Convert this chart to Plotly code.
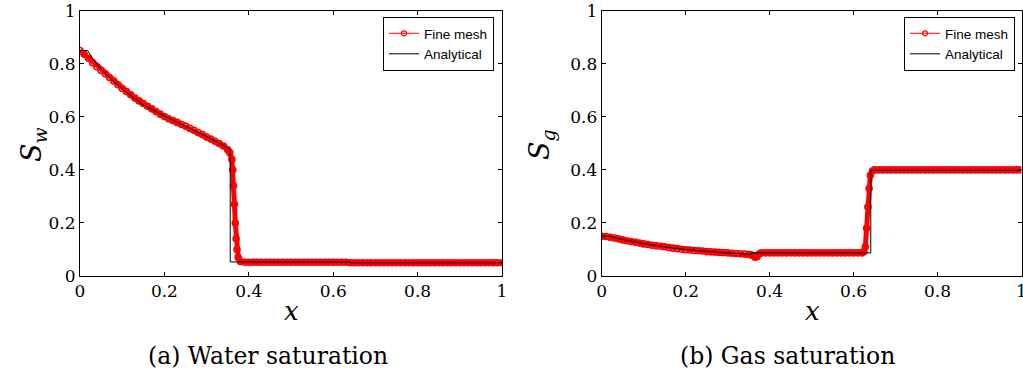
import plotly.graph_objects as go

# ---------------- data ----------------
tick_vals = [0, 0.2, 0.4, 0.6, 0.8, 1]
tick_text = ["0", "0.2", "0.4", "0.6", "0.8", "1"]

# Water saturation - fine mesh
water_fine_x = [0.00, 0.01, 0.02, 0.03, 0.04, 0.05, 0.06, 0.07, 0.08, 0.09,
                0.10, 0.11, 0.12, 0.13, 0.14, 0.15, 0.16, 0.17, 0.18, 0.19,
                0.20, 0.21, 0.22, 0.23, 0.24, 0.25, 0.26, 0.27, 0.28, 0.29,
                0.30, 0.31, 0.32, 0.33, 0.34, 0.35, 0.355, 0.36, 0.362, 0.364,
                0.366, 0.368, 0.370, 0.372, 0.375, 0.38, 0.39,
                0.40, 0.41, 0.42, 0.43, 0.44, 0.45, 0.46, 0.47, 0.48, 0.49,
                0.50, 0.51, 0.52, 0.53, 0.54, 0.55, 0.56, 0.57, 0.58, 0.59,
                0.60, 0.61, 0.62, 0.63, 0.64, 0.65, 0.66, 0.67, 0.68, 0.69,
                0.70, 0.71, 0.72, 0.73, 0.74, 0.75, 0.76, 0.77, 0.78, 0.79,
                0.80, 0.81, 0.82, 0.83, 0.84, 0.85, 0.86, 0.87, 0.88, 0.89,
                0.90, 0.91, 0.92, 0.93, 0.94, 0.95, 0.96, 0.97, 0.98, 0.99, 1.00]
water_fine_s = [0.850, 0.836, 0.821, 0.804, 0.789, 0.775, 0.762, 0.748, 0.735, 0.721,
                0.707, 0.695, 0.683, 0.671, 0.660, 0.650, 0.640, 0.630, 0.620, 0.610,
                0.601, 0.593, 0.586, 0.579, 0.572, 0.565, 0.557, 0.549, 0.541, 0.533,
                0.524, 0.516, 0.508, 0.499, 0.490, 0.476, 0.465, 0.440, 0.400, 0.340,
                0.270, 0.200, 0.140, 0.100, 0.070, 0.055, 0.052,
                0.052, 0.052, 0.052, 0.052, 0.052, 0.052, 0.052, 0.052, 0.052, 0.052,
                0.052, 0.052, 0.052, 0.052, 0.052, 0.052, 0.052, 0.052, 0.052, 0.052,
                0.052, 0.052, 0.052, 0.052, 0.050, 0.050, 0.050, 0.050, 0.050, 0.050,
                0.050, 0.050, 0.050, 0.050, 0.050, 0.050, 0.050, 0.050, 0.050, 0.050,
                0.050, 0.050, 0.050, 0.050, 0.050, 0.050, 0.050, 0.050, 0.050, 0.050,
                0.050, 0.050, 0.050, 0.050, 0.050, 0.050, 0.050, 0.050, 0.050, 0.050, 0.050]

# Water saturation - analytical
water_ana_x = [0.0, 0.018, 0.03, 0.05, 0.075, 0.10, 0.15, 0.20, 0.25, 0.30, 0.356, 0.356, 0.64, 0.64, 1.0]
water_ana_s = [0.85, 0.85, 0.82, 0.78, 0.74, 0.705, 0.645, 0.603, 0.565, 0.527, 0.478, 0.053, 0.053, 0.050, 0.050]

# Gas saturation - fine mesh
gas_fine_x = [0.00, 0.01, 0.02, 0.03, 0.04, 0.05, 0.06, 0.07, 0.08, 0.09,
              0.10, 0.11, 0.12, 0.13, 0.14, 0.15, 0.16, 0.17, 0.18, 0.19,
              0.20, 0.21, 0.22, 0.23, 0.24, 0.25, 0.26, 0.27, 0.28, 0.29,
              0.30, 0.31, 0.32, 0.33, 0.34, 0.35, 0.355, 0.36, 0.365, 0.37,
              0.375, 0.38, 0.39,
              0.40, 0.41, 0.42, 0.43, 0.44, 0.45, 0.46, 0.47, 0.48, 0.49,
              0.50, 0.51, 0.52, 0.53, 0.54, 0.55, 0.56, 0.57, 0.58, 0.59,
              0.60, 0.61, 0.62, 0.625, 0.628, 0.631, 0.634, 0.637, 0.64, 0.645,
              0.65, 0.66, 0.67, 0.68, 0.69,
              0.70, 0.71, 0.72, 0.73, 0.74, 0.75, 0.76, 0.77, 0.78, 0.79,
              0.80, 0.81, 0.82, 0.83, 0.84, 0.85, 0.86, 0.87, 0.88, 0.89,
              0.90, 0.91, 0.92, 0.93, 0.94, 0.95, 0.96, 0.97, 0.98, 0.99, 1.00]
gas_fine_s = [0.150, 0.149, 0.146, 0.143, 0.140, 0.136, 0.133, 0.130, 0.127, 0.124,
              0.121, 0.119, 0.116, 0.114, 0.112, 0.110, 0.107, 0.105, 0.103, 0.101,
              0.099, 0.098, 0.096, 0.095, 0.094, 0.092, 0.091, 0.090, 0.089, 0.088,
              0.087, 0.086, 0.085, 0.084, 0.083, 0.081, 0.080, 0.077, 0.071, 0.073,
              0.083, 0.087, 0.087,
              0.087, 0.087, 0.087, 0.087, 0.087, 0.087, 0.087, 0.087, 0.087, 0.087,
              0.087, 0.087, 0.087, 0.087, 0.087, 0.087, 0.087, 0.087, 0.087, 0.087,
              0.087, 0.087, 0.087, 0.092, 0.110, 0.180, 0.260, 0.330, 0.380, 0.396,
              0.400, 0.400, 0.400, 0.400, 0.400,
              0.400, 0.400, 0.400, 0.400, 0.400, 0.400, 0.400, 0.400, 0.400, 0.400,
              0.400, 0.400, 0.400, 0.400, 0.400, 0.400, 0.400, 0.400, 0.400, 0.400,
              0.400, 0.400, 0.400, 0.400, 0.400, 0.400, 0.400, 0.400, 0.400, 0.400, 0.400]

# Gas saturation - analytical
gas_ana_x = [0.0, 0.02, 0.04, 0.06, 0.08, 0.10, 0.15, 0.20, 0.25, 0.30, 0.356, 0.356, 0.641, 0.641, 1.0]
gas_ana_s = [0.150, 0.150, 0.141, 0.134, 0.128, 0.122, 0.110, 0.100, 0.093, 0.087, 0.081, 0.087, 0.087, 0.398, 0.398]

series_names = ["Fine mesh", "Analytical"]
captions = ["(a) Water saturation", "(b) Gas saturation"]
y_titles = ["<i>S</i><sub><i>w</i></sub>", "<i>S</i><sub><i>g</i></sub>"]
x_title = "<i>x</i>"

# ---------------- figure ----------------
W, H = 1023, 377


def px(xp):
    return xp / W


def py(yp):
    return 1 - yp / H


SERIF = "DejaVu Serif"
SANS = "Liberation Sans, Arial"
RED = "#ff0000"

fig = go.Figure()

panels = [
    (water_fine_x, water_fine_s, water_ana_x, water_ana_s, "x", "y", "legend"),
    (gas_fine_x, gas_fine_s, gas_ana_x, gas_ana_s, "x2", "y2", "legend2"),
]
for fx, fs, ax_, as_, xa, ya, lg in panels:
    fig.add_trace(go.Scatter(
        x=fx, y=fs, mode="lines+markers", name=series_names[0],
        xaxis=xa, yaxis=ya, legend=lg, showlegend=False,
        line=dict(color=RED, width=5),
        marker=dict(symbol="circle-open", size=6, color=RED, line=dict(width=1.6, color=RED)),
    ))
    fig.add_trace(go.Scatter(
        x=[None], y=[None], mode="lines+markers", name=series_names[0],
        xaxis=xa, yaxis=ya, legend=lg,
        line=dict(color=RED, width=1),
        marker=dict(symbol="circle-open", size=5, color=RED, line=dict(width=1.2, color=RED)),
    ))
    fig.add_trace(go.Scatter(
        x=ax_, y=as_, mode="lines", name=series_names[1],
        xaxis=xa, yaxis=ya, legend=lg,
        line=dict(color="#000000", width=1),
    ))

ydom = [py(276), py(10.7)]
xdom1 = [px(80), px(502)]
xdom2 = [px(601.7), px(1021.5)]

axis_common = dict(
    range=[0, 1], showgrid=False, zeroline=False, automargin=False,
    ticklabeloverflow="allow",
    showline=True, linecolor="black", linewidth=1, mirror="allticks",
    ticks="inside", ticklen=4, tickcolor="black", tickwidth=1,
    tickvals=tick_vals, ticktext=tick_text,
    tickfont=dict(family=SERIF, size=17, color="black"),
    fixedrange=True,
)

legend_common = dict(
    xanchor="right", y=py(17), yanchor="top",
    bgcolor="white", bordercolor="black", borderwidth=1,
    font=dict(family=SANS, size=13.5, color="black"),
    tracegroupgap=0, itemwidth=30,
)

fig.update_layout(
    template="none",
    width=W, height=H, autosize=False,
    margin=dict(l=0, r=0, t=0, b=0, pad=0, autoexpand=False),
    paper_bgcolor="white", plot_bgcolor="white",
    showlegend=True,
    xaxis=dict(domain=xdom1, anchor="y", **axis_common),
    yaxis=dict(domain=ydom, anchor="x", **axis_common),
    xaxis2=dict(domain=xdom2, anchor="y2", **axis_common),
    yaxis2=dict(domain=ydom, anchor="x2", **axis_common),
    legend=dict(x=px(494), **legend_common),
    legend2=dict(x=px(1015), **legend_common),
)

annotations = []
for cx, cy in [(291, 311), (812, 311)]:
    annotations.append(dict(text=x_title, x=px(cx), y=py(cy), xref="paper", yref="paper",
                            xanchor="center", yanchor="middle", showarrow=False,
                            font=dict(family=SERIF, size=26, color="black")))
for i, cx in enumerate([33, 541]):
    annotations.append(dict(text=y_titles[i], x=px(cx), y=py(145), xref="paper", yref="paper",
                            xanchor="center", yanchor="middle", showarrow=False, textangle=-90,
                            font=dict(family=SERIF, size=27, color="black")))
for i, cx in enumerate([268, 787]):
    annotations.append(dict(text=captions[i], x=px(cx), y=py(356), xref="paper", yref="paper",
                            xanchor="center", yanchor="middle", showarrow=False,
                            font=dict(family=SERIF, size=23.5, color="black")))
fig.update_layout(annotations=annotations)

fig.write_html("out.html")
